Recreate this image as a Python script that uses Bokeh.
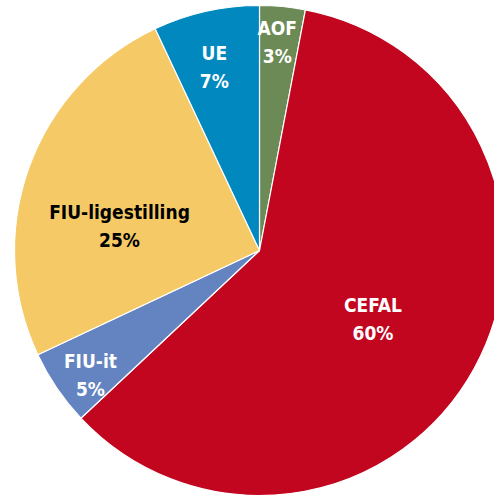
import math
from bokeh.plotting import figure
from bokeh.models import Range1d, ColumnDataSource
from bokeh.core.properties import value
from bokeh.embed import file_html
from bokeh.resources import INLINE

# Data (clockwise from the top)
categories = ["AOF", "CEFAL", "FIU-it", "FIU-ligestilling", "UE"]
shares = [3, 60, 5, 25, 7]
pct_labels = ["3%", "60%", "5%", "25%", "7%"]

# Styles
colors = ["#6b8a56", "#c3061f", "#6384c0", "#f5ca66", "#0088bf"]
text_colors = ["white", "white", "white", "black", "white"]
label_r = [0.855, 0.54, 0.857, 0.58, 0.77]       # fraction of radius
label_frac = [0.45, 0.51, 0.38, 0.39, 0.45]      # position within slice

W, H = 494, 497
p = figure(width=W, height=H, output_backend="svg", toolbar_location=None,
           x_range=Range1d(0, W), y_range=Range1d(0, H),
           min_border=0, outline_line_color=None)
p.axis.visible = False
p.grid.visible = False
p.background_fill_color = "white"

cx, cy, R = 259, 247, 245
total = sum(shares)
starts, ends = [], []
cum = 0
for s in shares:
    a0 = math.radians(90 - 360 * cum / total)
    cum += s
    a1 = math.radians(90 - 360 * cum / total)
    starts.append(a0)
    ends.append(a1)

src = ColumnDataSource(dict(cat=categories, share=shares, start=starts, end=ends, color=colors))
p.wedge(x=cx, y=cy, radius=R, start_angle="start", end_angle="end", direction="clock",
        fill_color="color", line_color="white", line_width=1.2, source=src)

lx, ly = [], []
cum = 0
for s, rf, ff in zip(shares, label_r, label_frac):
    th = math.radians(360 * (cum + ff * s) / total)
    cum += s
    lx.append(cx + rf * R * math.sin(th))
    ly.append(cy + rf * R * math.cos(th))

font = value("'DejaVu Sans Condensed', 'Roboto'")
lsrc = ColumnDataSource(dict(x=lx, y1=[y + 14 for y in ly], y2=[y - 14 for y in ly],
                             name=categories, pct=pct_labels, tc=text_colors))
for ycol, tcol in (("y1", "name"), ("y2", "pct")):
    p.text(x="x", y=ycol, text=tcol, source=lsrc, text_color="tc",
           text_font=font, text_font_style="bold", text_font_size="19px",
           text_align="center", text_baseline="middle")

open("out.html", "w").write(file_html(p, INLINE))
